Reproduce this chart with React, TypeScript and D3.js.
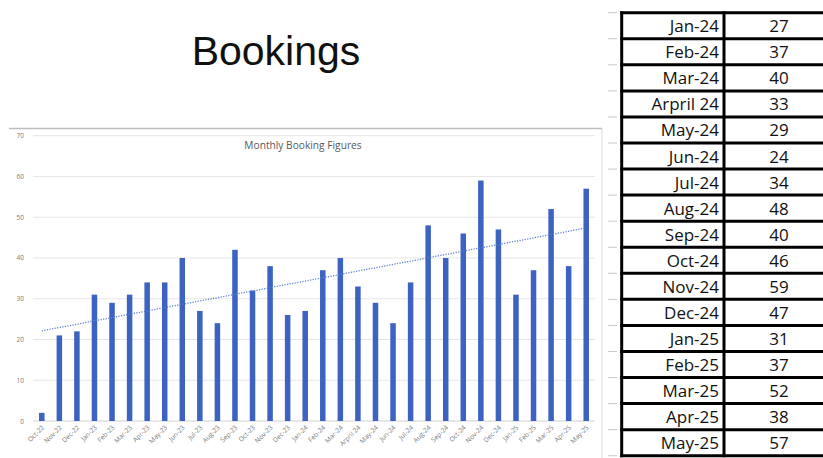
import React from "react";
import * as d3 from "d3";

const months = [
  "Oct-22", "Nov-22", "Dec-22", "Jan-23", "Feb-23", "Mar-23", "Apr-23", "May-23",
  "Jun-23", "Jul-23", "Aug-23", "Sep-23", "Oct-23", "Nov-23", "Dec-23", "Jan-24",
  "Feb-24", "Mar-24", "Arpril 24", "May-24", "Jun-24", "Jul-24", "Aug-24", "Sep-24",
  "Oct-24", "Nov-24", "Dec-24", "Jan-25", "Feb-25", "Mar-25", "Apr-25", "May-25",
];
const bookings = [
  2, 21, 22, 31, 29, 31, 34, 34, 40, 27, 24, 42, 32, 38, 26, 27,
  37, 40, 33, 29, 24, 34, 48, 40, 46, 59, 47, 31, 37, 52, 38, 57,
];
const yTicks = [0, 10, 20, 30, 40, 50, 60, 70];

const tableLabels = [
  "Jan-24", "Feb-24", "Mar-24", "Arpril 24", "May-24", "Jun-24", "Jul-24", "Aug-24",
  "Sep-24", "Oct-24", "Nov-24", "Dec-24", "Jan-25", "Feb-25", "Mar-25", "Apr-25", "May-25",
];
const tableValues = [27, 37, 40, 33, 29, 24, 34, 48, 40, 46, 59, 47, 31, 37, 52, 38, 57];

export default function App() {
  const W = 823, H = 458;
  const x = d3.scaleBand<string>().domain(months).range([33, 595]);
  const y = d3.scaleLinear().domain([0, 70]).range([421, 135.7]);
  const barW = 5.5;

  // least-squares linear trendline
  const n = bookings.length;
  const xs = d3.range(n);
  const mx = d3.mean(xs)!;
  const my = d3.mean(bookings)!;
  const slope =
    d3.sum(xs, (i) => (i - mx) * (bookings[i] - my)) / d3.sum(xs, (i) => (i - mx) ** 2);
  const intercept = my - slope * mx;
  const cx = (i: number) => x(months[i])! + x.bandwidth() / 2;
  const trend = d3.line<number>()
    .x((i) => cx(i))
    .y((i) => y(intercept + slope * i))([0, n - 1]);

  const rowH = 26.06;
  const tTop = 12.7;
  const tL = 621.7, tM = 724;

  return (
    <svg width={W} height={H} style={{ position: "absolute", left: 0, top: 0, background: "#fff" }}>
      <text x={276} y={65} textAnchor="middle" fontFamily="Liberation Sans, Arial, sans-serif" fontSize={41} fill="#111">
        Bookings
      </text>

      {/* chart frame */}
      <line x1={9} x2={602} y1={128.5} y2={128.5} stroke="#bdbdbd" strokeWidth={1.5} />
      <line x1={602} x2={602} y1={128} y2={458} stroke="#dcdcdc" strokeWidth={1} />

      <text x={303} y={149} textAnchor="middle" fontFamily="Open Sans, sans-serif" fontSize={10.2} fill="#595959">
        Monthly Booking Figures
      </text>

      {yTicks.map((t) => (
        <g key={t}>
          <line x1={33} x2={595} y1={y(t)} y2={y(t)} stroke={t === 0 ? "#d0d0d0" : "#e6e6e6"} strokeWidth={1} />
          <text x={24} y={y(t) + 2.5} textAnchor="end" fontFamily="Open Sans, sans-serif" fontSize={6.5} fill="#7a7a7a">
            {t}
          </text>
        </g>
      ))}

      {bookings.map((v, i) => (
        <rect key={i} x={cx(i) - barW / 2} y={y(v)} width={barW} height={y(0) - y(v)} fill="#3c62c2" />
      ))}

      <path d={trend!} fill="none" stroke="#5b80d0" strokeWidth={1.3} strokeDasharray="1.2 1.4" />

      {months.map((m, i) => (
        <text
          key={m}
          transform={`translate(${cx(i) + 3},${y(0) + 7}) rotate(-45)`}
          textAnchor="end"
          fontFamily="Open Sans, sans-serif"
          fontSize={6.6}
          fill="#7a7a7a"
        >
          {m}
        </text>
      ))}

      {/* table */}
      {d3.range(tableLabels.length + 1).map((r) => (
        <line key={"tick" + r} x1={608} x2={617} y1={tTop + r * rowH} y2={tTop + r * rowH} stroke="#c8c8c8" strokeWidth={1} />
      ))}
      {d3.range(tableLabels.length + 1).map((r) => (
        <line key={"h" + r} x1={tL - 1.5} x2={W} y1={tTop + r * rowH} y2={tTop + r * rowH} stroke="#000" strokeWidth={3} />
      ))}
      <line x1={tL} x2={tL} y1={tTop - 1.5} y2={tTop + tableLabels.length * rowH + 1.5} stroke="#000" strokeWidth={3} />
      <line x1={tM} x2={tM} y1={tTop - 1.5} y2={tTop + tableLabels.length * rowH + 1.5} stroke="#000" strokeWidth={3} />
      {tableLabels.map((l, r) => (
        <g key={l} fontFamily="Open Sans, sans-serif" fontSize={17} fill="#111">
          <text x={719} y={tTop + r * rowH + 19.5} textAnchor="end">{l}</text>
          <text x={779} y={tTop + r * rowH + 19.5} textAnchor="middle">{tableValues[r]}</text>
        </g>
      ))}
    </svg>
  );
}
